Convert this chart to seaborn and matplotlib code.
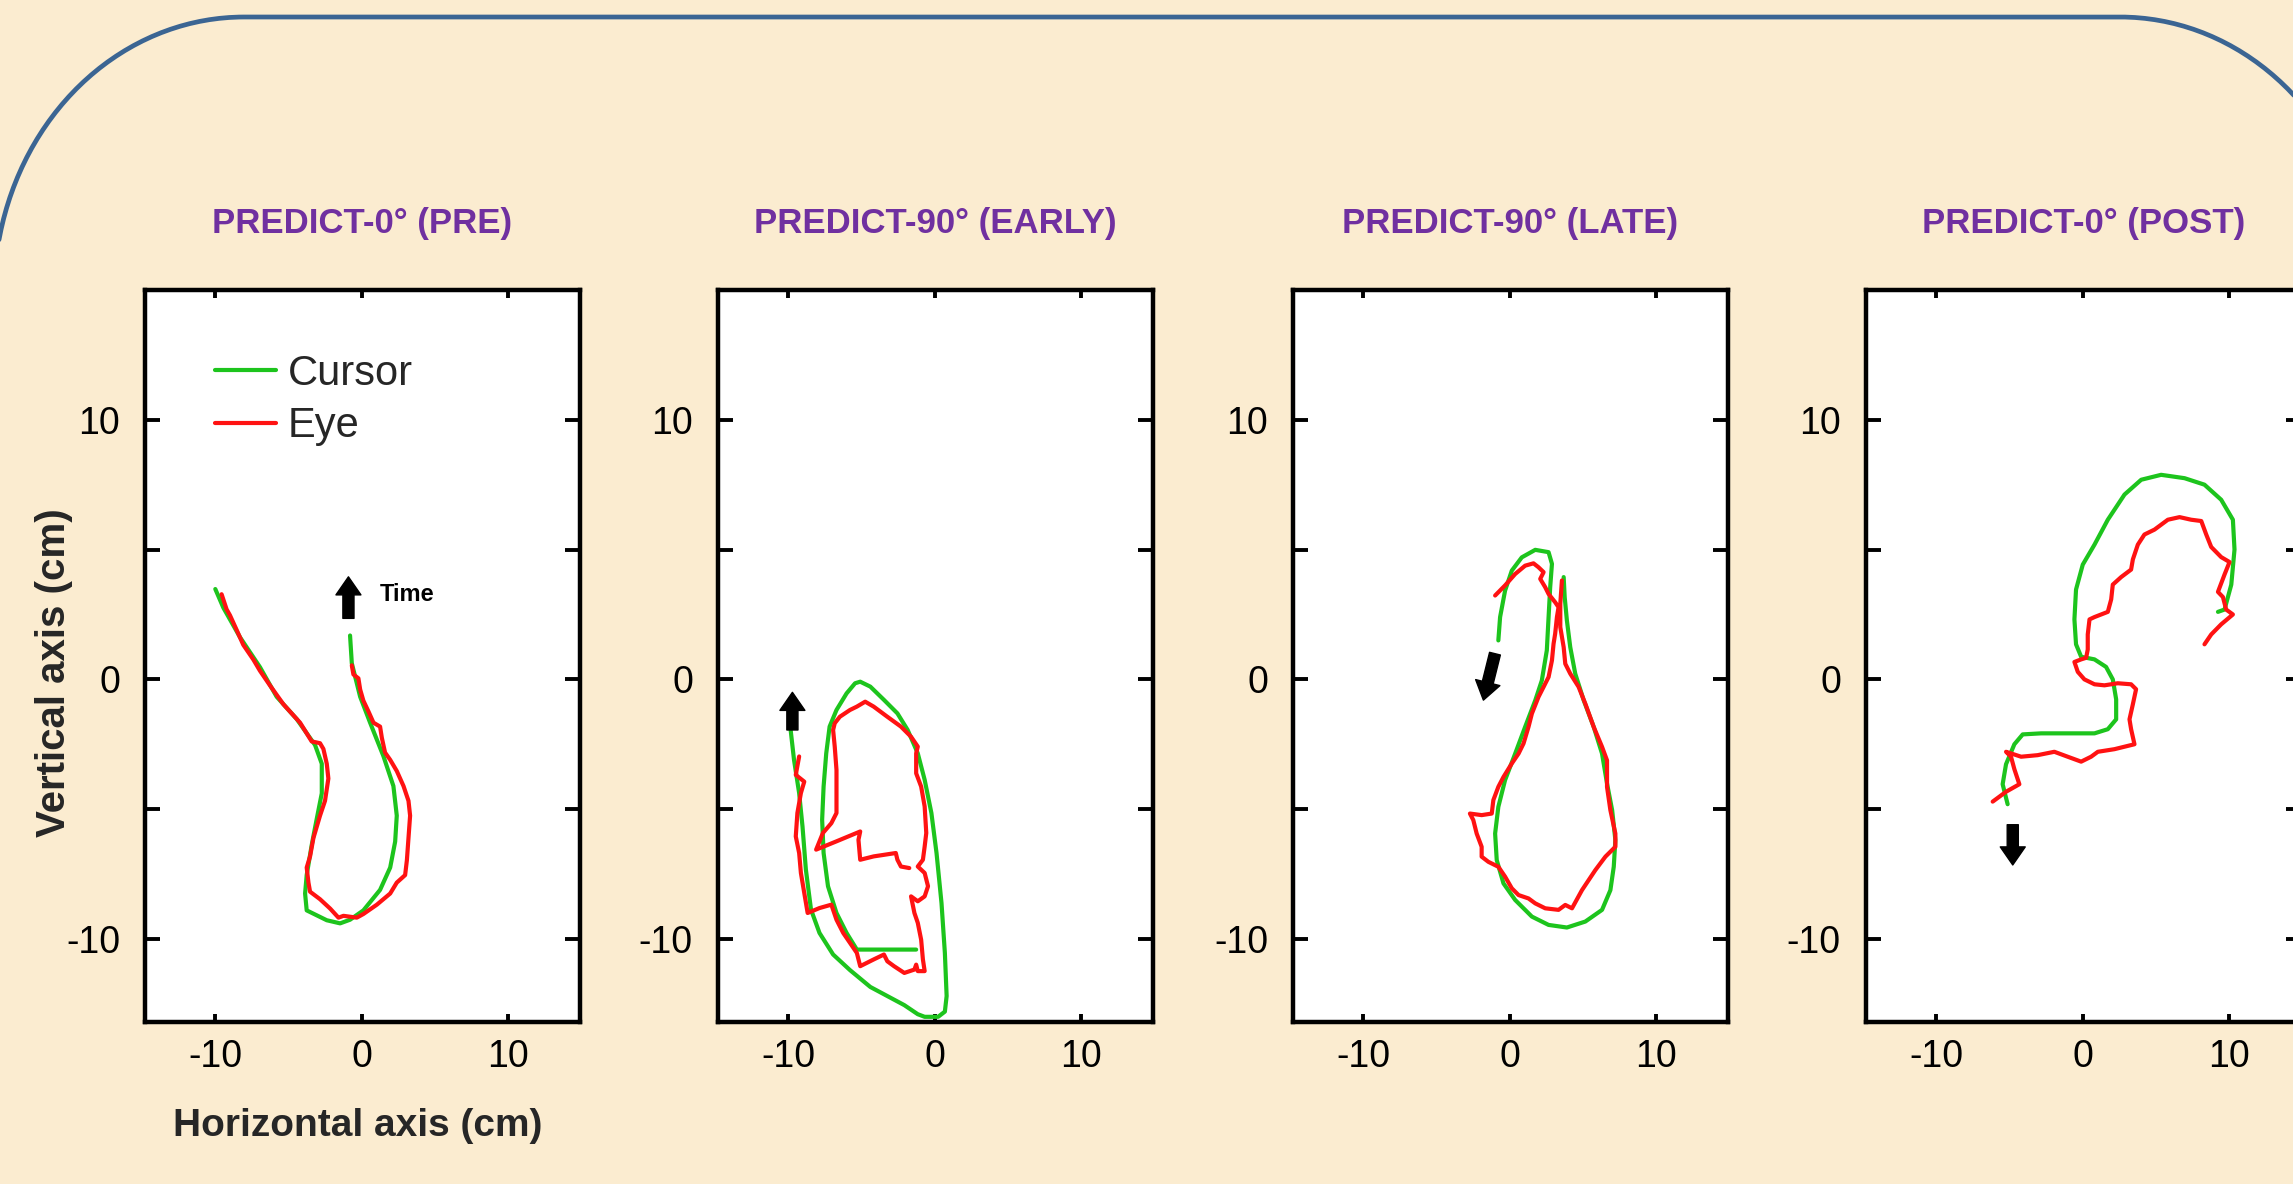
import numpy as np
import matplotlib
matplotlib.use("Agg")
import matplotlib.pyplot as plt
import seaborn as sns
from matplotlib.lines import Line2D

# ---------------------------------------------------------------- data
titles = ["PREDICT-0° (PRE)", "PREDICT-90° (EARLY)",
          "PREDICT-90° (LATE)", "PREDICT-0° (POST)"]

pre_cursor_x = [-10.0, -9.45, -8.31, -6.95, -5.81, -4.44, -3.19, -2.73, -2.73, -3.08,
                -3.42, -3.76, -3.87, -3.76, -2.39, -1.48, -0.80, 0.11, 1.25, 1.94,
                2.28, 2.39, 2.16, 1.48, 0.57, -0.11, -0.68, -0.80]
pre_cursor_y = [3.48, 2.76, 1.62, 0.47, -0.67, -1.53, -2.53, -3.25, -4.39, -5.39,
                -6.39, -7.54, -8.25, -8.90, -9.28, -9.40, -9.26, -8.90, -8.11, -7.25,
                -6.25, -5.25, -4.11, -2.96, -1.67, -0.67, 0.62, 1.69]
pre_eye_x = [-9.57, -9.23, -9.00, -8.54, -8.09, -7.40, -6.95, -6.26, -5.35, -4.90,
             -4.21, -3.42, -2.85, -2.62, -2.39, -2.28, -2.51, -2.85, -3.30, -3.53,
             -3.76, -3.64, -3.53, -2.85, -2.16, -1.59, -1.25, -0.34, 0.11, 1.03,
             1.94, 2.39, 2.96, 3.08, 3.19, 3.30, 3.19, 2.85, 2.39, 1.94,
             1.59, 1.37, 1.25, 0.80, 0.46, 0.11, -0.11, -0.23, -0.57, -0.68]
pre_eye_y = [3.28, 2.70, 2.47, 1.90, 1.33, 0.76, 0.33, -0.24, -0.96, -1.24,
             -1.67, -2.39, -2.46, -2.68, -3.25, -3.82, -4.68, -5.25, -6.11, -6.82,
             -7.25, -7.83, -8.18, -8.47, -8.83, -9.18, -9.11, -9.18, -9.04, -8.68,
             -8.25, -7.83, -7.54, -6.97, -6.11, -5.25, -4.68, -4.11, -3.53, -3.10,
             -2.82, -2.25, -1.82, -1.67, -1.24, -0.82, -0.39, 0.04, 0.19, 0.54]

early_cursor_x = [-9.84, -9.61, -9.26, -9.03, -8.80, -8.45, -7.87, -6.94, -5.79, -4.40,
                  -3.24, -2.08, -1.16, -0.69, 0.23, 0.69, 0.81, 0.69, 0.46, 0.12,
                  -0.23, -0.69, -1.16, -1.85, -2.55, -3.47, -4.40, -5.09, -5.44, -6.02,
                  -6.71, -7.18, -7.41, -7.59, -7.69, -7.59, -7.29, -6.71, -6.02, -5.32,
                  -1.27]
early_cursor_y = [-1.95, -3.10, -4.38, -5.67, -7.33, -8.87, -9.77, -10.60, -11.20, -11.85,
                  -12.20, -12.55, -12.90, -13.00, -13.00, -12.80, -12.20, -10.54, -8.62, -6.69,
                  -5.15, -3.87, -2.85, -1.95, -1.31, -0.79, -0.28, -0.09, -0.15, -0.54,
                  -1.18, -1.82, -2.85, -4.13, -5.41, -6.69, -7.97, -9.00, -9.77, -10.41,
                  -10.41]
early_eye_x = [-9.26, -9.49, -8.91, -9.14, -9.38, -9.49, -9.26, -9.14, -8.91, -8.68,
               -7.87, -7.06, -6.71, -6.25, -5.79, -5.32, -5.09, -4.17, -3.47, -3.24,
               -2.78, -2.08, -1.39, -1.27, -1.16, -0.69, -0.81, -0.93, -1.16, -1.39,
               -1.62, -1.16, -0.69, -0.46, -0.69, -1.16, -0.81, -0.69, -0.58, -0.69,
               -0.93, -1.27, -1.27, -1.16, -1.62, -2.31, -3.24, -4.17, -4.75, -5.32,
               -5.79, -6.48, -6.83, -6.94, -6.83, -6.71, -6.71, -6.71, -7.06, -7.64,
               -8.10, -6.71, -5.09, -5.21, -5.09, -4.17, -3.47, -2.66, -2.55, -2.31,
               -1.74]
early_eye_y = [-2.97, -3.68, -3.94, -4.38, -5.15, -6.05, -6.69, -7.46, -8.23, -9.00,
               -8.81, -8.68, -9.26, -9.77, -10.15, -10.54, -11.05, -10.79, -10.60, -10.86,
               -11.05, -11.31, -11.18, -10.99, -11.24, -11.24, -10.79, -10.03, -9.38, -9.00,
               -8.36, -8.55, -8.36, -7.97, -7.46, -7.21, -6.95, -6.44, -5.92, -4.90,
               -4.13, -3.62, -2.85, -2.59, -2.21, -1.82, -1.44, -1.05, -0.86, -1.05,
               -1.18, -1.44, -1.69, -1.95, -2.59, -3.49, -4.38, -5.15, -5.54, -5.92,
               -6.56, -6.24, -5.86, -6.18, -6.95, -6.82, -6.76, -6.69, -6.95, -7.21,
               -7.27]

late_cursor_x = [-0.78, -0.66, -0.32, 0.14, 0.82, 1.74, 2.65, 2.88, 2.76, 2.65,
                 2.53, 2.19, 1.74, 1.05, 0.37, -0.32, -0.78, -1.00, -0.89, -0.43,
                 0.37, 1.51, 2.65, 3.90, 5.16, 6.30, 6.87, 7.10, 7.21, 6.99,
                 6.64, 6.30, 5.73, 5.05, 4.47, 4.13, 3.90, 3.75, 3.68]
late_cursor_y = [1.50, 2.40, 3.42, 4.19, 4.70, 4.99, 4.90, 4.45, 3.55, 2.40,
                 1.12, -0.04, -0.81, -1.83, -2.86, -3.88, -4.91, -5.94, -6.96, -7.86,
                 -8.50, -9.14, -9.46, -9.56, -9.33, -8.88, -8.12, -7.22, -6.19, -5.04,
                 -4.01, -2.86, -1.83, -0.81, 0.22, 1.24, 2.27, 3.17, 3.94]
late_eye_x = [-1.00, -0.32, 0.37, 1.05, 1.62, 1.96, 2.31, 2.08, 2.42, 2.65,
              3.10, 3.33, 3.22, 3.10, 2.99, 2.88, 2.65, 2.31, 1.96, 1.51,
              1.28, 0.94, 0.60, 0.14, -0.43, -0.78, -1.12, -1.23, -1.92, -2.72,
              -2.49, -2.26, -1.92, -1.92, -1.46, -0.78, -0.32, 0.14, 0.60, 1.28,
              1.74, 2.42, 3.33, 3.79, 4.25, 4.93, 5.84, 6.53, 7.21, 7.21,
              6.87, 6.64, 6.64, 6.30, 5.73, 5.16, 4.70, 4.13, 3.79, 3.68,
              3.45, 3.45, 3.56]
late_eye_y = [3.23, 3.62, 4.06, 4.38, 4.47, 4.32, 4.13, 3.87, 3.55, 3.29,
              2.97, 2.78, 2.40, 1.76, 1.37, 0.73, 0.09, -0.29, -0.68, -1.32,
              -1.83, -2.47, -2.86, -3.24, -3.76, -4.14, -4.65, -5.17, -5.23, -5.17,
              -5.42, -5.94, -6.45, -6.83, -7.03, -7.22, -7.60, -8.05, -8.31, -8.44,
              -8.63, -8.82, -8.88, -8.69, -8.82, -8.12, -7.35, -6.83, -6.45, -5.94,
              -5.04, -4.14, -3.12, -2.60, -1.83, -0.94, -0.29, 0.22, 0.60, 1.24,
              2.01, 2.91, 3.81]

post_cursor_x = [-5.13, -5.47, -5.24, -4.67, -4.10, -2.85, -1.03, 0.80, 1.71, 2.28,
                 2.28, 2.05, 1.59, 0.80, -0.11, -0.46, -0.57, -0.46, 0.00, 0.80,
                 1.71, 2.85, 3.99, 5.35, 6.95, 8.31, 9.45, 10.25, 10.36, 10.14,
                 9.68, 9.23]
post_cursor_y = [-4.81, -4.04, -3.27, -2.50, -2.12, -2.08, -2.08, -2.08, -1.92, -1.54,
                 -0.77, 0.00, 0.48, 0.77, 0.87, 1.35, 2.31, 3.46, 4.42, 5.19,
                 6.15, 7.12, 7.69, 7.88, 7.75, 7.50, 6.92, 6.15, 5.00, 3.65,
                 2.69, 2.60]
post_eye_x = [-6.15, -5.24, -4.33, -4.67, -4.90, -5.24, -4.21, -3.08, -1.94, -1.03,
              -0.11, 0.57, 1.03, 2.16, 3.53, 3.30, 3.19, 3.42, 3.64, 3.30,
              2.39, 1.48, 0.80, 0.11, -0.34, -0.57, -0.11, 0.23, 0.34, 0.34,
              0.46, 0.80, 1.71, 1.94, 2.05, 2.62, 3.30, 3.42, 3.76, 4.21,
              4.90, 5.81, 6.61, 7.40, 8.09, 8.43, 8.77, 9.45, 10.02, 9.68,
              9.23, 9.57, 9.79, 10.25, 9.45, 8.77, 8.31]
post_eye_y = [-4.71, -4.33, -4.04, -3.46, -2.98, -2.79, -2.98, -2.92, -2.79, -2.98,
              -3.17, -2.98, -2.79, -2.69, -2.50, -1.92, -1.54, -0.96, -0.38, -0.19,
              -0.15, -0.23, -0.19, 0.00, 0.29, 0.67, 0.77, 0.83, 1.15, 1.73,
              2.31, 2.40, 2.60, 3.08, 3.65, 3.94, 4.23, 4.62, 5.19, 5.58,
              5.77, 6.15, 6.25, 6.15, 6.10, 5.58, 5.10, 4.71, 4.52, 4.04,
              3.37, 3.17, 2.69, 2.50, 2.12, 1.73, 1.35]

# direction-of-time arrows: (tail x, tail y, head x, head y)
time_arrows = [(-0.91, 2.35, -0.91, 3.95),
               (-9.72, -1.95, -9.72, -0.50),
               (-1.01, 0.99, -1.80, -0.80),
               (-4.78, -5.60, -4.78, -7.15)]

x_ticks = [-10, 0, 10]
y_ticks = [-10, -5, 0, 5, 10]
y_tick_labels = ["-10", "", "0", "", "10"]

# ---------------------------------------------------------------- style
BG = "#FBECD0"
GREEN = "#1DC41D"
RED = "#FF1212"
PURPLE = "#7030A0"
BORDER = "#3B6593"

sns.set_theme(style="white")
plt.rcParams["font.family"] = ["Liberation Sans", "DejaVu Sans"]
plt.rcParams["axes.unicode_minus"] = False

W, H = 2293, 1184
fig = plt.figure(figsize=(W / 100, H / 100), dpi=100, facecolor=BG)

# rounded frame across the top of the slide
t = np.linspace(0, np.pi / 2, 80)
lx = np.concatenate([[-6, -6], (244 - 250 * np.sin(t))[::-1]])
ly = np.concatenate([[1300, 295], (295 - 278 * np.cos(t))[::-1]])
rx = 2120 + 250 * np.sin(t)
ry = 295 - 278 * np.cos(t)
fx = np.concatenate([lx, rx])
fy = np.concatenate([ly, ry])
fig.add_artist(Line2D(fx / W, 1 - fy / H, transform=fig.transFigure,
                      color=BORDER, lw=3.4, solid_capstyle="round"))

panels = [
    (pre_cursor_x, pre_cursor_y, pre_eye_x, pre_eye_y),
    (early_cursor_x, early_cursor_y, early_eye_x, early_eye_y),
    (late_cursor_x, late_cursor_y, late_eye_x, late_eye_y),
    (post_cursor_x, post_cursor_y, post_eye_x, post_eye_y),
]
lefts = [145, 718, 1293, 1866]
ax_w, ax_top, ax_bot = 435, 290, 1022

for i, (cx, cy, ex, ey) in enumerate(panels):
    ax = fig.add_axes([lefts[i] / W, 1 - ax_bot / H, ax_w / W, (ax_bot - ax_top) / H])
    ax.set_facecolor("white")
    sns.lineplot(x=cx, y=cy, sort=False, estimator=None, color=GREEN, lw=3.0,
                 ax=ax, label="Cursor" if i == 0 else None, legend=False)
    sns.lineplot(x=ex, y=ey, sort=False, estimator=None, color=RED, lw=3.0,
                 ax=ax, label="Eye" if i == 0 else None, legend=False)

    tx, ty, hx, hy = time_arrows[i]
    ax.annotate("", xy=(hx, hy), xytext=(tx, ty),
                arrowprops=dict(arrowstyle="simple,head_length=1.3,head_width=1.8,tail_width=0.8",
                                fc="black", ec="black", shrinkA=0, shrinkB=0,
                                mutation_scale=10))

    ax.set_xlim(-14.8, 14.9)
    ax.set_ylim(-13.2, 15.0)
    ax.set_xticks(x_ticks)
    ax.set_xticklabels([str(v) for v in x_ticks])
    ax.set_yticks(y_ticks)
    ax.set_yticklabels(y_tick_labels)
    ax.tick_params(axis="x", direction="in", top=True, bottom=True, length=6,
                   width=2.8, labelsize=27, pad=12, colors="black")
    ax.tick_params(axis="y", direction="in", left=True, right=True, length=11,
                   width=2.8, labelsize=27, pad=18, colors="black")
    for sp in ax.spines.values():
        sp.set_visible(True)
        sp.set_color("black")
        sp.set_linewidth(3.2)
    ax.set_xlabel("")
    ax.set_ylabel("")
    ax.set_title(titles[i], color=PURPLE, fontsize=25, fontweight="bold", pad=41)

    if i == 0:
        ax.text(1.25, 3.28, "Time", fontsize=17, fontweight="bold", va="center",
                ha="left", color="black")
        ax.legend(loc="upper left", bbox_to_anchor=(0.16, 0.913), frameon=False,
                  fontsize=30, handlelength=1.47, handletextpad=0.28,
                  labelspacing=0.3, borderpad=0, borderaxespad=0)
        ax.set_xlabel("Horizontal axis (cm)", fontsize=28, fontweight="bold")
        ax.xaxis.set_label_coords(0.49, -0.117)
        ax.set_ylabel("Vertical axis (cm)", fontsize=29, fontweight="bold")
        ax.yaxis.set_label_coords(-0.165, 0.477)

fig.savefig("out.png", dpi=100, facecolor=BG)
